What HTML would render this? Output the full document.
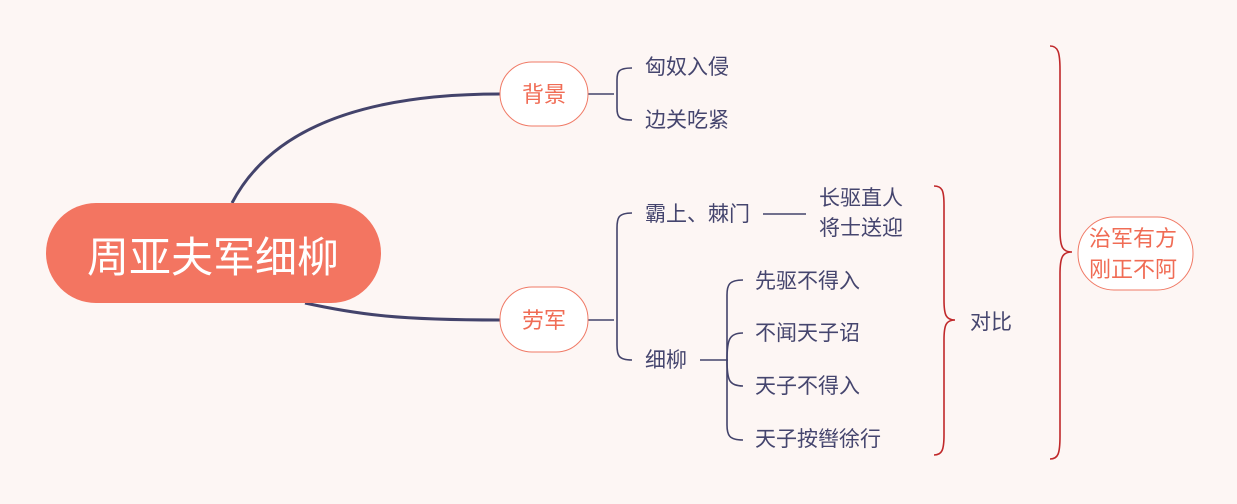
<!DOCTYPE html>
<html><head><meta charset="utf-8"><style>
html,body{margin:0;padding:0;background:#fdf6f4;}
svg{display:block}
text{font-family:"Liberation Sans","Noto Sans CJK SC",sans-serif;}
</style></head><body>
<svg width="1237" height="504" viewBox="0 0 1237 504">
<rect width="1237" height="504" fill="#fdf6f4"/>
<g fill="none" stroke="#43436b" stroke-width="3">
<path d="M232 203 C270 130 360 94 500 94"/>
<path d="M305 303 C360 315 400 320 500 320"/>
</g>
<g fill="none" stroke="#43436b" stroke-width="1.6">
<path d="M588 94 H614"/>
<path d="M632 68 C618 68 617 72 617 80 V108 C617 116 618 120 632 120"/>
<path d="M588 320 H614"/>
<path d="M632 213 C618 213 617 218 617 228 V345 C617 355 618 360 632 360"/>
<path d="M763 214 H806"/>
<path d="M700 360 H728"/>
<path d="M743 280 C729 280 727 285 727 295 V425 C727 435 729 440 743 440"/>
<path d="M727 360 C727 340 729 333 743 333"/>
<path d="M727 360 C727 380 729 386 743 386"/>
</g>
<g fill="none" stroke="#c0282a" stroke-width="1.6">
<path d="M934 186 C942 186 944 190 944 205 V300 C944 315 946 320 955 320 C946 320 944 325 944 340 V435 C944 450 942 455 934 455"/>
<path d="M1050 46 C1058 46 1060 52 1060 70 V230 C1060 248 1063 252 1072 252 C1063 252 1060 256 1060 274 V436 C1060 454 1058 459 1050 459"/>
</g>
<rect x="46" y="203" width="335" height="100" rx="50" fill="#f37561"/>
<text x="213" y="272" font-size="42" fill="#fff" text-anchor="middle">周亚夫军细柳</text>
<rect x="500" y="62" width="88" height="64" rx="32" fill="#fff" stroke="#f07a66" stroke-width="1"/>
<text x="544" y="102" font-size="22" fill="#f06c55" text-anchor="middle">背景</text>
<rect x="500" y="287" width="88" height="65" rx="32" fill="#fff" stroke="#f07a66" stroke-width="1"/>
<text x="544" y="328" font-size="22" fill="#f06c55" text-anchor="middle">劳军</text>
<rect x="1078" y="217" width="115" height="73" rx="36" fill="#fff" stroke="#f07a66" stroke-width="1"/>
<text x="1133" y="246" font-size="22" fill="#f06c55" text-anchor="middle">治军有方</text>
<text x="1133" y="277" font-size="22" fill="#f06c55" text-anchor="middle">刚正不阿</text>
<g font-size="21" fill="#45456e">
<text x="645" y="74">匈奴入侵</text>
<text x="645" y="127">边关吃紧</text>
<text x="645" y="221">霸上、棘门</text>
<text x="819" y="205">长驱直人</text>
<text x="819" y="235">将士送迎</text>
<text x="645" y="367">细柳</text>
<text x="755" y="288">先驱不得入</text>
<text x="755" y="340">不闻天子诏</text>
<text x="755" y="393">天子不得入</text>
<text x="755" y="446">天子按辔徐行</text>
<text x="970" y="329">对比</text>
</g>
</svg>
</body></html>
